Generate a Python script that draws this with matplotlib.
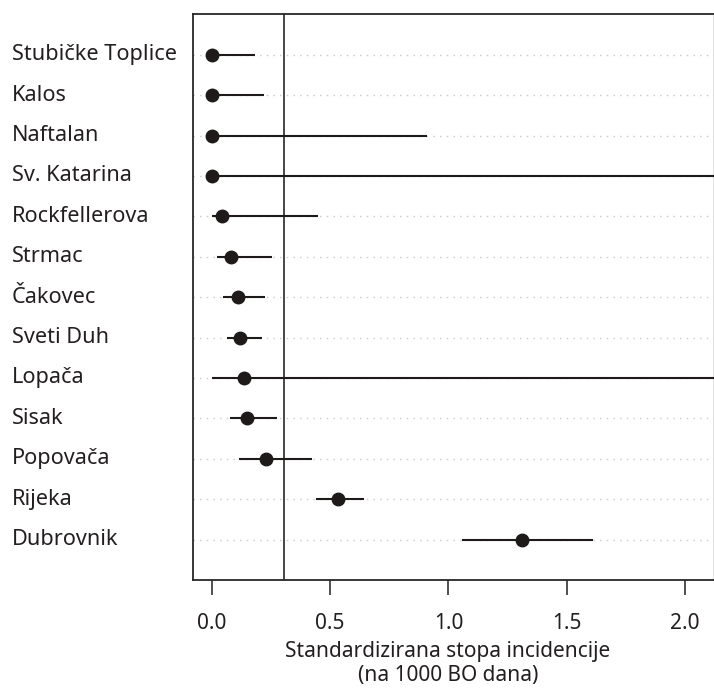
import matplotlib
matplotlib.use("Agg")
import matplotlib.pyplot as plt
import matplotlib.transforms as mtransforms
import numpy as np

# hospitals, top to bottom
hospitals = [
    "Stubičke Toplice", "Kalos", "Naftalan", "Sv. Katarina", "Rockfellerova",
    "Strmac", "Čakovec", "Sveti Duh", "Lopača", "Sisak", "Popovača",
    "Rijeka", "Dubrovnik",
]
rate = [0.0, 0.0, 0.0, 0.0, 0.042, 0.082, 0.111, 0.118, 0.135, 0.147, 0.229, 0.534, 1.309]
ci_low = [0.0, 0.0, 0.0, 0.0, 0.003, 0.021, 0.048, 0.065, 0.003, 0.079, 0.115, 0.440, 1.059]
ci_high = [0.183, 0.222, 0.909, 3.0, 0.450, 0.255, 0.225, 0.211, 3.0, 0.277, 0.423, 0.645, 1.610]
overall = 0.307

xticks = [0.0, 0.5, 1.0, 1.5, 2.0]
xlabel_lines = ["Standardizirana stopa incidencije", "(na 1000 BO dana)"]

plt.rcParams["font.family"] = ["Noto Sans", "DejaVu Sans"]
fig = plt.figure(figsize=(7.14, 6.88), dpi=100)
ax = fig.add_axes([0.270, 0.157, 0.7294, 0.8222])

n = len(hospitals)
ypos = np.arange(n, 0, -1)

# dotted guide lines, CI segments, point estimates
ax.hlines(ypos, -0.08, 2.12, colors="#c8c8c8", linewidth=1.0,
          linestyles=[(0, (1, 3.8))])
ax.hlines(ypos, ci_low, ci_high, colors="#1e1a1a", linewidth=1.5, zorder=3)
ax.plot(rate, ypos, "o", color="#1e1a1a", markersize=9, zorder=4)
ax.axvline(overall, color="#2a2626", linewidth=1.2, zorder=2)

ax.set_xlim(-0.08, 2.12)
ax.set_ylim(0, 14)
ax.set_xticks(xticks)
ax.set_xticklabels([f"{v:.1f}" for v in xticks], fontsize=15, color="#231f20")
ax.set_yticks([])
ax.tick_params(axis="x", length=10.8, width=1.1, pad=13, color="#231f20")
for name, sp in ax.spines.items():
    sp.set_color("#2a2626")
    sp.set_linewidth(1.3)
ax.spines["right"].set_color("#dddddd")

trans = mtransforms.blended_transform_factory(fig.transFigure, ax.transData)
for label, y in zip(hospitals, ypos):
    ax.text(12 / 714, y, label, transform=trans, ha="left", va="center",
            fontsize=15.6, color="#231f20")

fig.text(448 / 714, 1 - 651 / 688, xlabel_lines[0], ha="center", va="center",
         fontsize=15, color="#231f20")
fig.text(448 / 714, 1 - 676 / 688, xlabel_lines[1], ha="center", va="center",
         fontsize=15, color="#231f20")

fig.savefig("out.png", dpi=100)
